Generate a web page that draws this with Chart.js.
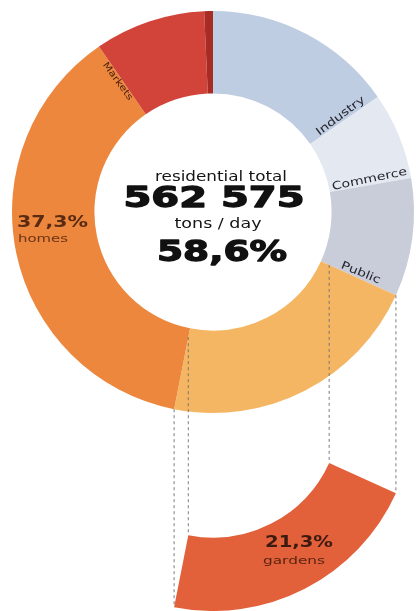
<!DOCTYPE html>
<html><head><meta charset="utf-8">
<script src="https://cdn.jsdelivr.net/npm/chart.js@4"></script>
<style>
html,body{margin:0;padding:0;background:#fff;width:420px;height:611px;overflow:hidden}
canvas{position:absolute;left:0;top:0}
</style></head><body>
<canvas id="main" width="420" height="611"></canvas>
<canvas id="detail" width="420" height="611"></canvas>
<script>
// ---- data ----
const categories = ['Industry', 'Commerce', 'Public', 'gardens', 'homes', 'Markets', 'Other'];
const shares = [15.3, 7.0, 9.5, 21.3, 37.3, 8.9, 0.7];
const ringColors = ['#bfcde2', '#e3e8f1', '#c9ccd9', '#f5b663', '#ec873d', '#d2443a', '#a82b24'];
const detailColors = ['rgba(0,0,0,0)', 'rgba(0,0,0,0)', 'rgba(0,0,0,0)', '#e2603a', 'rgba(0,0,0,0)', 'rgba(0,0,0,0)', 'rgba(0,0,0,0)'];
const residentialLabel = 'residential total';
const residentialTons = '562 575';
const unitLabel = 'tons / day';
const residentialShare = '58,6%';
const GARDENS = 3, HOMES = 4, MARKETS = 5;

function pct(v) { return v.toFixed(1).replace('.', ',') + '%'; }

function fitText(ctx, txt, x, y, font, width, align, color, stroke) {
  ctx.save();
  ctx.font = font;
  const w = ctx.measureText(txt).width;
  const sx = width / w;
  ctx.translate(x, y);
  ctx.scale(sx, 1);
  ctx.textAlign = align;
  ctx.textBaseline = 'alphabetic';
  ctx.fillStyle = color;
  ctx.fillText(txt, 0, 0);
  if (stroke) { ctx.lineWidth = stroke; ctx.strokeStyle = color; ctx.lineJoin = 'round'; ctx.strokeText(txt, 0, 0); }
  ctx.restore();
}

function radialText(ctx, txt, x, y, rot, font, sx, color) {
  ctx.save();
  ctx.translate(x, y);
  ctx.rotate(rot);
  ctx.scale(sx, 1);
  ctx.font = font;
  ctx.textAlign = 'center';
  ctx.textBaseline = 'middle';
  ctx.fillStyle = color;
  ctx.fillText(txt, 0, 0);
  ctx.restore();
}

const deg = Math.PI / 180;

const mainText = {
  id: 'mainText',
  afterDatasetsDraw(chart) {
    const ctx = chart.ctx;
    const arcs = chart.getDatasetMeta(0).data;
    // center block
    fitText(ctx, residentialLabel, 221, 181, '14px "DejaVu Sans"', 132, 'center', '#151515');
    fitText(ctx, residentialTons, 214, 207, 'bold 29px "DejaVu Sans"', 181, 'center', '#111', 1.3);
    fitText(ctx, unitLabel, 218, 228, '14px "DejaVu Sans"', 87, 'center', '#151515');
    fitText(ctx, residentialShare, 222, 261, 'bold 29px "DejaVu Sans"', 130, 'center', '#111', 1.3);
    // radial labels at segment ends
    for (let i = 0; i < 3; i++) {
      const a = arcs[i];
      const ang = a.endAngle - 2 * deg;
      const r = (a.innerRadius + a.outerRadius) / 2;
      radialText(ctx, categories[i], a.x + r * Math.cos(ang), a.y + r * Math.sin(ang), ang,
        '11px "DejaVu Sans"', 1.28, '#26262e');
    }
    const m = arcs[MARKETS];
    const angM = m.startAngle - 1.6 * deg;
    const rM = (m.innerRadius + m.outerRadius) / 2 + 2;
    radialText(ctx, categories[MARKETS], m.x + rM * Math.cos(angM), m.y + rM * Math.sin(angM), angM + Math.PI,
      '9px "DejaVu Sans"', 1.25, '#4a2010');
    // homes label
    fitText(ctx, pct(shares[HOMES]), 17, 227, 'bold 15px "DejaVu Sans"', 71, 'left', '#5a2a12');
    fitText(ctx, categories[HOMES], 18, 242, '10px "DejaVu Sans"', 50, 'left', '#6a3416');
  }
};

const mainChart = new Chart(document.getElementById('main'), {
  type: 'doughnut',
  data: { labels: categories, datasets: [{ data: shares, backgroundColor: ringColors, borderWidth: 0 }] },
  options: {
    responsive: false, animation: false, events: [],
    cutout: '59%',
    layout: { padding: { left: 12, right: 6, top: 11, bottom: 198 } },
    plugins: { legend: { display: false }, tooltip: { enabled: false } }
  },
  plugins: [mainText]
});

const detailText = {
  id: 'detailText',
  afterDatasetsDraw(chart) {
    const ctx = chart.ctx;
    const d = chart.getDatasetMeta(0).data[GARDENS];
    const m = mainChart.getDatasetMeta(0).data[GARDENS];
    ctx.save();
    ctx.strokeStyle = '#6c6c6c';
    ctx.lineWidth = 0.9;
    ctx.setLineDash([3, 3]);
    for (const ang of [d.startAngle, d.endAngle]) {
      for (const r of [d.outerRadius, d.innerRadius]) {
        const xe = d.x + r * Math.cos(ang);
        const ye = d.y + r * Math.sin(ang);
        const ys = m.y + r * Math.sin(ang);
        ctx.beginPath();
        ctx.moveTo(xe, ys);
        ctx.lineTo(xe, ye);
        ctx.stroke();
      }
    }
    ctx.restore();
    fitText(ctx, pct(shares[GARDENS]), 265, 547, 'bold 15px "DejaVu Sans"', 68, 'left', '#3d1a10');
    fitText(ctx, categories[GARDENS], 263, 564, '10px "DejaVu Sans"', 62, 'left', '#5a2412');
  }
};

new Chart(document.getElementById('detail'), {
  type: 'doughnut',
  data: { labels: categories, datasets: [{ data: shares, backgroundColor: detailColors, borderWidth: 0 }] },
  options: {
    responsive: false, animation: false, events: [],
    cutout: '63.5%',
    layout: { padding: { left: 12, right: 6, top: 209, bottom: 0 } },
    plugins: { legend: { display: false }, tooltip: { enabled: false } }
  },
  plugins: [detailText]
});
</script>
</body></html>
